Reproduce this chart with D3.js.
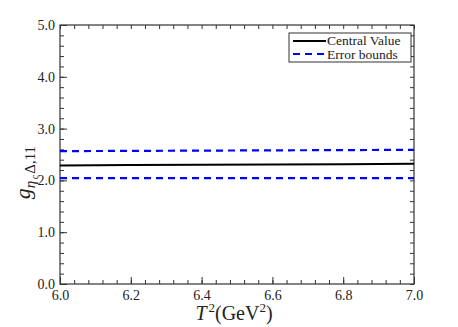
<!DOCTYPE html>
<html>
<head>
<meta charset="utf-8">
<script src="https://cdn.jsdelivr.net/npm/d3@7"></script>
<style>
  body { margin: 0; background: #fff; }
  text { font-family: "Liberation Serif", "DejaVu Serif", serif; fill: #222; }
</style>
</head>
<body>
<div id="chart"></div>
<script>
// data
var tValues = [6.0, 6.2, 6.4, 6.6, 6.8, 7.0];
var central = [2.29, 2.295, 2.30, 2.305, 2.31, 2.32];
var upper = [2.565, 2.57, 2.575, 2.58, 2.585, 2.59];
var lower = [2.045, 2.045, 2.045, 2.045, 2.045, 2.045];
var xTicks = [6.0, 6.2, 6.4, 6.6, 6.8, 7.0];
var yTicks = [0, 1, 2, 3, 4, 5];
var legendLabels = ["Central Value", "Error bounds"];

var W = 458, H = 327;
var margin = {top: 25, right: 44, bottom: 43, left: 60},
    width = W - margin.left - margin.right,
    height = H - margin.top - margin.bottom;

var svg = d3.select("#chart").append("svg")
    .attr("width", W).attr("height", H)
  .append("g")
    .attr("transform", "translate(" + margin.left + "," + margin.top + ")");

var x = d3.scaleLinear().domain([6.0, 7.0]).range([0, width]);
var y = d3.scaleLinear().domain([0, 5]).range([height, 0]);

var minorX = d3.range(0, 26).map(function(i) { return 6.0 + i * 0.04; });
var minorY = d3.range(0, 26).map(function(i) { return i * 0.2; });

function styleAxis(g) {
  g.select(".domain").remove();
  g.selectAll(".tick line").attr("stroke", "#333").attr("stroke-width", 1);
  g.selectAll(".tick text").style("font-size", "14px")
    .style("font-family", "'Liberation Serif', serif").attr("fill", "#333");
}

// minor ticks (all four sides, inward)
svg.append("g").attr("transform", "translate(0," + height + ")")
  .call(d3.axisBottom(x).tickValues(minorX).tickSize(-4).tickFormat(""))
  .call(styleAxis);
svg.append("g")
  .call(d3.axisTop(x).tickValues(minorX).tickSize(-4).tickFormat(""))
  .call(styleAxis);
svg.append("g")
  .call(d3.axisLeft(y).tickValues(minorY).tickSize(-4).tickFormat(""))
  .call(styleAxis);
svg.append("g").attr("transform", "translate(" + width + ",0)")
  .call(d3.axisRight(y).tickValues(minorY).tickSize(-4).tickFormat(""))
  .call(styleAxis);

// major labelled axes
svg.append("g").attr("transform", "translate(0," + height + ")")
  .call(d3.axisBottom(x).tickValues(xTicks).tickSize(-7).tickPadding(6).tickFormat(d3.format(".1f")))
  .call(styleAxis);
svg.append("g")
  .call(d3.axisLeft(y).tickValues(yTicks).tickSize(-7).tickPadding(5).tickFormat(d3.format(".1f")))
  .call(styleAxis);

// frame
svg.append("rect").attr("width", width).attr("height", height)
  .attr("fill", "none").attr("stroke", "#333").attr("stroke-width", 1.2);

// lines
var line = d3.line()
  .x(function(d, i) { return x(tValues[i]); })
  .y(function(d) { return y(d); });

svg.append("path").datum(upper).attr("d", line)
  .attr("fill", "none").attr("stroke", "#0000ff").attr("stroke-width", 2.2)
  .attr("stroke-dasharray", "7,5");
svg.append("path").datum(lower).attr("d", line)
  .attr("fill", "none").attr("stroke", "#0000ff").attr("stroke-width", 2.2)
  .attr("stroke-dasharray", "7,5");
svg.append("path").datum(central).attr("d", line)
  .attr("fill", "none").attr("stroke", "#000").attr("stroke-width", 2);

// legend
var legend = svg.append("g").attr("transform", "translate(" + (width - 125) + ",8)");
legend.append("rect").attr("width", 122).attr("height", 29)
  .attr("fill", "#fff").attr("stroke", "#333").attr("stroke-width", 1);
legend.append("line").attr("x1", 4).attr("x2", 37).attr("y1", 8).attr("y2", 8)
  .attr("stroke", "#000").attr("stroke-width", 2);
legend.append("text").attr("x", 38).attr("y", 12).style("font-size", "13.5px")
  .text(legendLabels[0]);
legend.append("line").attr("x1", 4).attr("x2", 37).attr("y1", 21).attr("y2", 21)
  .attr("stroke", "#0000ff").attr("stroke-width", 2).attr("stroke-dasharray", "7,5");
legend.append("text").attr("x", 38).attr("y", 25.5).style("font-size", "13.5px")
  .text(legendLabels[1]);

// x label
var xl = svg.append("text").attr("x", width / 2 - 3).attr("y", height + 36)
  .attr("text-anchor", "middle").style("font-size", "20px");
xl.append("tspan").style("font-style", "italic").text("T");
xl.append("tspan").attr("dx", 2).attr("dy", -8).style("font-size", "13px").text("2");
xl.append("tspan").attr("dy", 8).text("(GeV");
xl.append("tspan").attr("dy", -8).style("font-size", "13px").text("2");
xl.append("tspan").attr("dy", 8).text(")");

// y label
var yl = svg.append("text")
  .attr("transform", "translate(-30," + (height / 2 + 18) + ") rotate(-90)")
  .attr("text-anchor", "middle").style("font-size", "22px");
yl.append("tspan").style("font-style", "italic").text("g");
yl.append("tspan").attr("dy", 5).style("font-size", "15px").style("font-style", "italic").text("η");
yl.append("tspan").attr("dx", 1.5).attr("dy", 3).style("font-size", "10px").style("font-style", "italic").text("c");
yl.append("tspan").attr("dx", 1).attr("dy", -3).style("font-size", "15px").text("Δ,11");
</script>
</body>
</html>
